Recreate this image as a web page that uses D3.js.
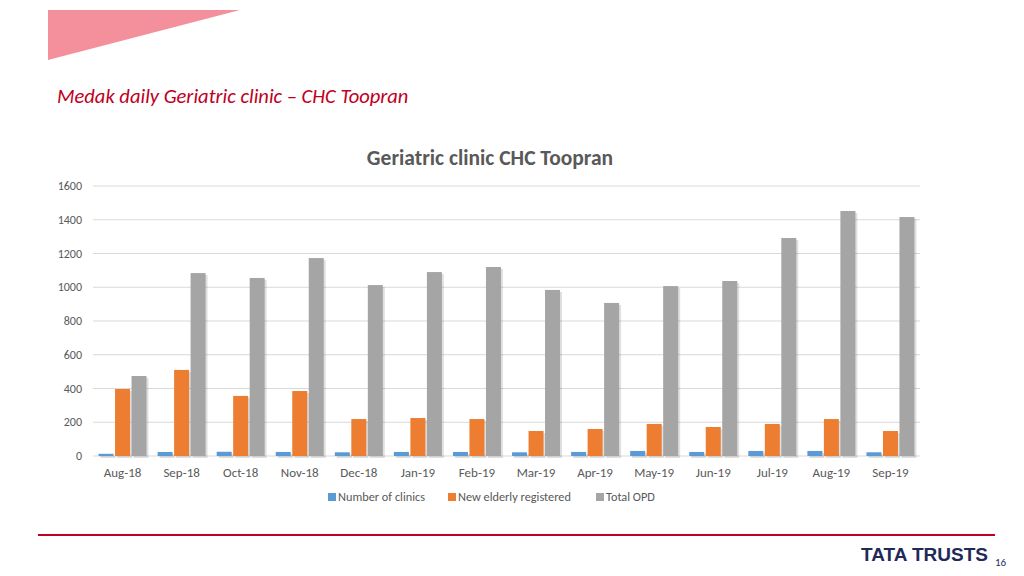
<!DOCTYPE html>
<html><head><meta charset="utf-8">
<script src="https://cdn.jsdelivr.net/npm/d3@7"></script>
<style>body{margin:0;background:#fff}svg{font-family:Calibri,Carlito,"Liberation Sans",sans-serif}</style>
</head><body><svg id="c" width="1024" height="576"></svg>
<script>
const categories=["Aug-18","Sep-18","Oct-18","Nov-18","Dec-18","Jan-19","Feb-19","Mar-19","Apr-19","May-19","Jun-19","Jul-19","Aug-19","Sep-19"];
const clinics=[13,24,25,24,22,24,24,22,24,30,24,30,30,22];
const newElderly=[397,510,356,385,219,225,219,148,160,190,172,190,219,148];
const totalOPD=[474,1084,1055,1173,1013,1090,1120,984,907,1007,1037,1292,1452,1416];
const seriesNames=["Number of clinics","New elderly registered","Total OPD"];
const colors=["#5b9bd5","#ed7d31","#a5a5a5"];
const yTicks=[0,200,400,600,800,1000,1200,1400,1600];

const svg=d3.select("#c");
svg.append("path").attr("d","M48,10L240,10L48,60Z").attr("fill","#f4909c");
svg.append("text").attr("x",57).attr("y",103).attr("font-size",20.5).attr("font-style","italic").attr("fill","#c0001e").text("Medak daily Geriatric clinic – CHC Toopran");
svg.append("text").attr("x",490).attr("y",165).attr("text-anchor","middle").attr("font-size",21.5).attr("font-weight","bold").attr("fill","#595959").text("Geriatric clinic CHC Toopran");

const x=d3.scaleBand().domain(categories).range([93,920]);
const y=d3.scaleLinear().domain([0,1600]).range([456,186]);
const g=svg.append("g");
yTicks.forEach(t=>{
 g.append("line").attr("x1",93).attr("x2",920).attr("y1",y(t)).attr("y2",y(t)).attr("stroke","#d9d9d9");
 g.append("text").attr("x",82).attr("y",y(t)+4).attr("text-anchor","end").attr("font-size",12).attr("fill","#595959").text(t);
});
const series=[clinics,newElderly,totalOPD];
const bw=15;
series.forEach((s,si)=>{
 categories.forEach((c,i)=>{
  const cx=x(c)+x.bandwidth()/2+(si-1)*16.5;
  g.append("rect").attr("x",cx-bw/2+2).attr("y",y(s[i])+2).attr("width",bw).attr("height",y(0)-y(s[i])).attr("fill","#000").attr("opacity",0.12);
  g.append("rect").attr("x",cx-bw/2).attr("y",y(s[i])).attr("width",bw).attr("height",y(0)-y(s[i])).attr("fill",colors[si]);
 });
});
categories.forEach(c=>{
 g.append("text").attr("x",x(c)+x.bandwidth()/2).attr("y",477).attr("text-anchor","middle").attr("font-size",13).attr("fill","#595959").text(c);
});
const lx=[328,448,596];
seriesNames.forEach((n,i)=>{
 svg.append("rect").attr("x",lx[i]).attr("y",493).attr("width",8).attr("height",8).attr("fill",colors[i]);
 svg.append("text").attr("x",lx[i]+10).attr("y",501).attr("font-size",12.3).attr("fill","#595959").text(n);
});
svg.append("line").attr("x1",38).attr("x2",995).attr("y1",535).attr("y2",535).attr("stroke","#c0001e").attr("stroke-width",2);
svg.append("text").attr("x",988).attr("y",561).attr("text-anchor","end").attr("font-size",19).attr("font-weight","bold").attr("font-family","Liberation Sans").attr("fill","#1f2a5a").text("TATA TRUSTS");
svg.append("text").attr("x",995).attr("y",566).attr("font-size",11).attr("fill","#1f2a5a").text("16");
</script></body></html>
